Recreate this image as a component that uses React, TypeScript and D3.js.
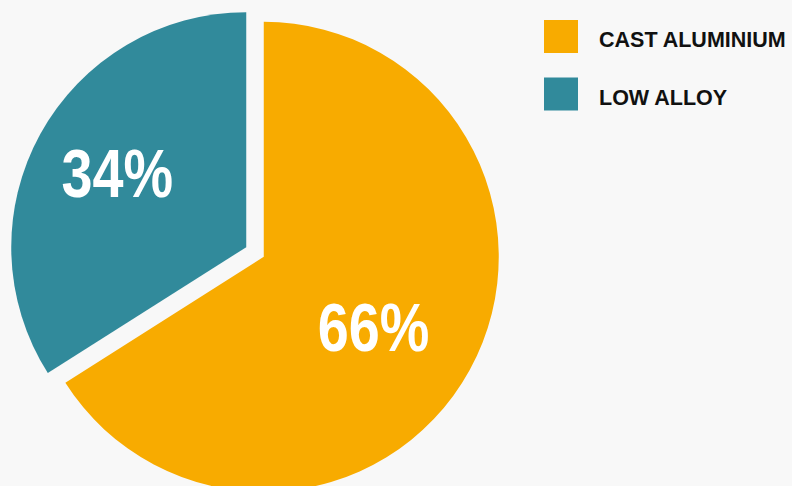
import React from "react";
import * as d3 from "d3";

const categories = ["CAST ALUMINIUM", "LOW ALLOY"];
const values = [66, 34];
const colors = ["#F8AB00", "#318A9B"];
const labelRadii = [130, 149];
const labelAngleShift = [3.6, 1.3];

const W = 792;
const H = 486;
const FONT = "'Liberation Sans', Arial, sans-serif";

export default function App() {
  const radius = 235;
  const cx = 255;
  const cy = 252;
  const explode = 10;
  const pie = d3.pie<number>().sort(null).value((d) => d)(values);
  const arc = d3.arc<d3.PieArcDatum<number>>().innerRadius(0).outerRadius(radius);

  return (
    <div style={{ position: "fixed", left: 0, top: 0, width: W, height: H, background: "#F8F8F8" }}>
      <svg width={W} height={H} style={{ display: "block" }}>
        <rect width={W} height={H} fill="#F8F8F8" />
        <g transform={`translate(${cx},${cy})`}>
          {pie.map((p, i) => {
            const mid = (p.startAngle + p.endAngle) / 2;
            const ox = Math.sin(mid) * explode;
            const oy = -Math.cos(mid) * explode;
            const la = mid + (labelAngleShift[i] * Math.PI) / 180;
            const lr = labelRadii[i];
            const lx = Math.sin(la) * lr;
            const ly = -Math.cos(la) * lr;
            return (
              <g key={i} transform={`translate(${ox},${oy})`}>
                <path d={arc(p) || ""} fill={colors[i]} />
                <g transform={`translate(${lx},${ly + 24.5}) scale(0.82,1)`}>
                  <text
                    x={0}
                    y={0}
                    textAnchor="middle"
                    fill="#FFFFFF"
                    fontFamily={FONT}
                    fontWeight="bold"
                    fontSize={68}
                  >
                    {values[i]}%
                  </text>
                </g>
              </g>
            );
          })}
        </g>
        <g transform="translate(544,20)">
          {categories.map((c, i) => (
            <g key={c} transform={`translate(0,${i * 57.5})`}>
              <rect width={34} height={33} fill={colors[i]} />
              <text
                x={55}
                y={27.3}
                fill="#111111"
                fontFamily={FONT}
                fontWeight="bold"
                fontSize={21.5}
              >
                {c}
              </text>
            </g>
          ))}
        </g>
      </svg>
    </div>
  );
}
